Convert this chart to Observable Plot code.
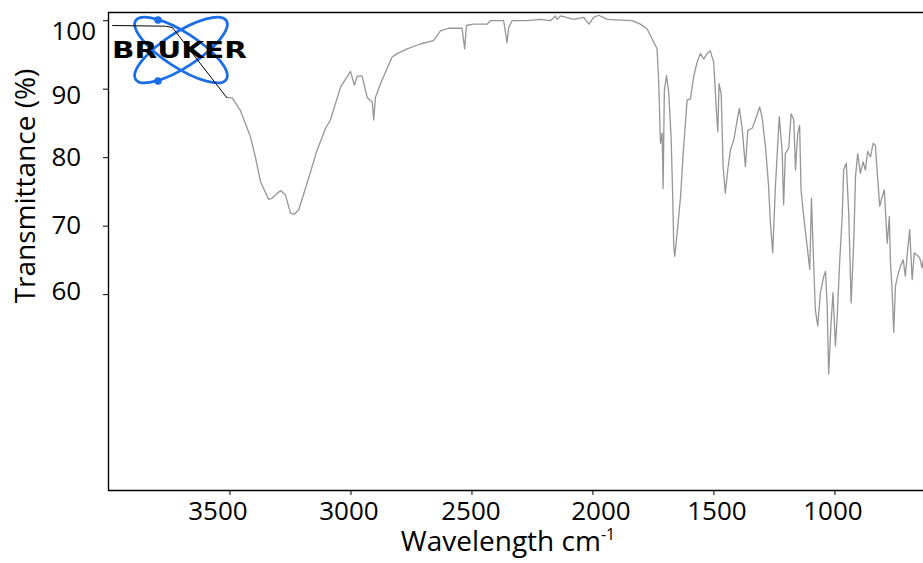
<!DOCTYPE html>
<html><head><meta charset="utf-8">
<script src="https://cdn.jsdelivr.net/npm/d3@7"></script>
<script src="https://cdn.jsdelivr.net/npm/@observablehq/plot@0.6"></script>
<style>
html,body{margin:0;padding:0;background:#fff;overflow:hidden;}
</style></head><body><div id="chart"></div>
<script>
// ---- data ----
const overlayWn = [3985, 3766, 3738, 3514];
const overlayT  = [99.3, 99.2, 99.0, 88.8];

const traceWn = [3514,3490,3457,3415,3395,3374,3340,3326,3291,3271,3250,3236,3216,3181,3140,3105,3085,3043,3002,2986,2974,2954,2933,2912,2906,2899,2878,2857,2830,2809,2768,2713,2659,2630,2596,2541,2530,2523,2494,2437,2424,2369,2355,2348,2334,2272,2217,2176,2155,2148,2134,2079,2038,2017,1997,1976,1941,1886,1838,1804,1776,1755,1735,1728,1721,1714,1710,1705,1696,1687,1677,1670,1666,1662,1652,1638,1627,1611,1597,1584,1570,1556,1542,1528,1515,1501,1490,1484,1479,1470,1462,1453,1443,1432,1418,1404,1395,1384,1370,1360,1342,1329,1311,1301,1287,1274,1267,1257,1246,1230,1218,1212,1205,1191,1181,1170,1163,1154,1146,1140,1129,1115,1104,1097,1090,1081,1071,1060,1046,1039,1032,1026,1016,1008,998,991,980,970,964,953,943,933,922,915,906,895,884,874,865,853,842,833,826,815,805,796,784,775,771,764,757,750,741,730,718,709,702,691,681,672,661,650,640,635];
const traceT  = [88.8,88.7,86.9,83.0,80.1,76.5,73.9,74.1,75.2,74.6,71.9,71.7,72.4,76.3,81.1,84.3,85.5,90.3,92.6,90.6,91.9,91.9,88.8,88.1,85.5,88.8,90.8,92.5,94.7,95.2,95.9,96.6,97.1,98.5,98.9,98.9,95.9,99.3,99.5,99.5,100.0,100.0,96.8,99.0,100.0,100.0,100.2,100.0,100.7,100.2,100.7,100.2,100.5,99.5,100.5,100.8,100.2,100.1,100.0,99.5,98.8,97.3,95.9,90.8,82.1,83.6,75.5,89.8,92.0,89.6,83.0,73.8,67.0,65.6,69.0,74.3,80.6,88.4,88.6,91.8,93.9,95.2,94.4,95.2,95.6,93.9,86.9,83.8,90.8,89.3,78.7,74.8,78.2,81.1,82.6,85.5,87.2,84.5,78.7,84.0,84.3,85.5,87.4,85.9,81.6,75.8,70.7,66.1,75.8,86.0,80.9,73.1,80.6,81.4,86.4,85.5,78.2,83.5,84.7,75.3,71.4,67.1,63.7,74.1,66.6,57.8,55.4,60.3,62.7,63.4,58.3,48.4,55.9,60.3,52.5,56.4,65.1,71.4,78.2,79.2,71.9,58.8,68.0,77.2,80.6,77.7,79.4,78.2,80.9,80.1,82.1,81.8,78.2,72.9,74.3,75.3,67.5,71.4,65.1,60.8,54.5,61.2,62.7,64.1,65.1,62.7,65.6,69.5,62.2,66.1,65.8,65.4,63.9,65.1];

const xTicks = [3500, 3000, 2500, 2000, 1500, 1000];
const yTicks = [60, 70, 80, 90, 100];
const xDomain = [4002, 634];
const yDomain = [31.4, 101.2];
const xLabelText = "Wavelength cm";
const xLabelSup = "-1";
const yLabelText = "Transmittance (%)";
const logoText = "BRUKER";

// ---- styling (kept apart from data) ----
const xLabelShift = {3500: -12, 3000: -2, 2500: -1, 2000: 8, 1500: 3, 1000: -2};
const yLabelShift = {100: 11, 90: 6, 80: 0, 70: 0, 60: -3};
const FONT = "'Open Sans', 'Noto Sans', sans-serif";

const trace = traceWn.map((w, i) => ({w, t: traceT[i]}));
const overlay = overlayWn.map((w, i) => ({w, t: overlayT[i]}));

const svg = Plot.plot({
  width: 923, height: 563,
  marginLeft: 108, marginRight: 0, marginTop: 12, marginBottom: 73,
  style: {fontFamily: FONT, background: "#fff", color: "#000"},
  x: {domain: xDomain, label: null},
  y: {domain: yDomain, label: null},
  marks: [
    Plot.axisX({ticks: xTicks, tickSize: 5, tickPadding: 6, fontSize: 26, tickFormat: d3.format("d"), label: null}),
    Plot.axisY({ticks: yTicks, tickSize: 5, text: null, label: null}),
    Plot.text(yTicks, {x: xDomain[0], y: d => d, text: d => String(d), textAnchor: "start", dx: -57,
      fontSize: 26, fill: "#000"}),
    Plot.line(trace, {x: "w", y: "t", stroke: "#969696", strokeWidth: 1.3}),
    Plot.line(overlay, {x: "w", y: "t", stroke: "#000", strokeWidth: 1}),
    Plot.ruleX([xDomain[0]], {stroke: "#000", strokeWidth: 1.4}),
    Plot.ruleY(yDomain, {stroke: "#000", strokeWidth: 1.4})
  ]
});
document.getElementById("chart").appendChild(svg);

const root = d3.select(svg);
root.selectAll('g[aria-label="x-axis tick label"] text').each(function() {
  const s = xLabelShift[+this.textContent] || 0;
  const tr = this.getAttribute("transform") || "";
  this.setAttribute("transform", (tr + ` translate(${s},0)`).trim());
});
root.selectAll('g[aria-label="text"] text').each(function() {
  const s = yLabelShift[+this.textContent] || 0;
  const tr = this.getAttribute("transform") || "";
  this.setAttribute("transform", (tr + ` translate(0,${s})`).trim());
});

// axis titles
root.append("text")
  .attr("transform", "translate(35,186) rotate(-90)")
  .attr("text-anchor", "middle").attr("font-size", 28).attr("fill", "#000")
  .text(yLabelText);
const xl = root.append("text")
  .attr("x", 508).attr("y", 551).attr("text-anchor", "middle")
  .attr("font-size", 28).attr("fill", "#000");
xl.append("tspan").text(xLabelText);
xl.append("tspan").attr("dy", -11).attr("font-size", 16).text(xLabelSup);

// instrument logo (decoration), placed under the spectrum lines
const logo = root.insert("g", ":first-child").attr("aria-label", "logo");
const blue = "#1b6ee6";
[33, -33].forEach(a => {
  logo.append("ellipse").attr("cx", 0).attr("cy", 0).attr("rx", 54).attr("ry", 17.5)
    .attr("transform", `translate(181,50) rotate(${a})`)
    .attr("fill", "none").attr("stroke", blue).attr("stroke-width", 2.8);
});
logo.append("circle").attr("cx", 158).attr("cy", 20).attr("r", 3.8).attr("fill", blue);
logo.append("circle").attr("cx", 158).attr("cy", 81).attr("r", 3.8).attr("fill", blue);
logo.append("text").attr("x", 112).attr("y", 58).attr("text-anchor", "start")
  .attr("font-family", "'DejaVu Sans', sans-serif")
  .attr("font-weight", 900).attr("font-size", 23).attr("textLength", 135)
  .attr("lengthAdjust", "spacingAndGlyphs").attr("fill", "#000").text(logoText);
</script>
</body></html>
